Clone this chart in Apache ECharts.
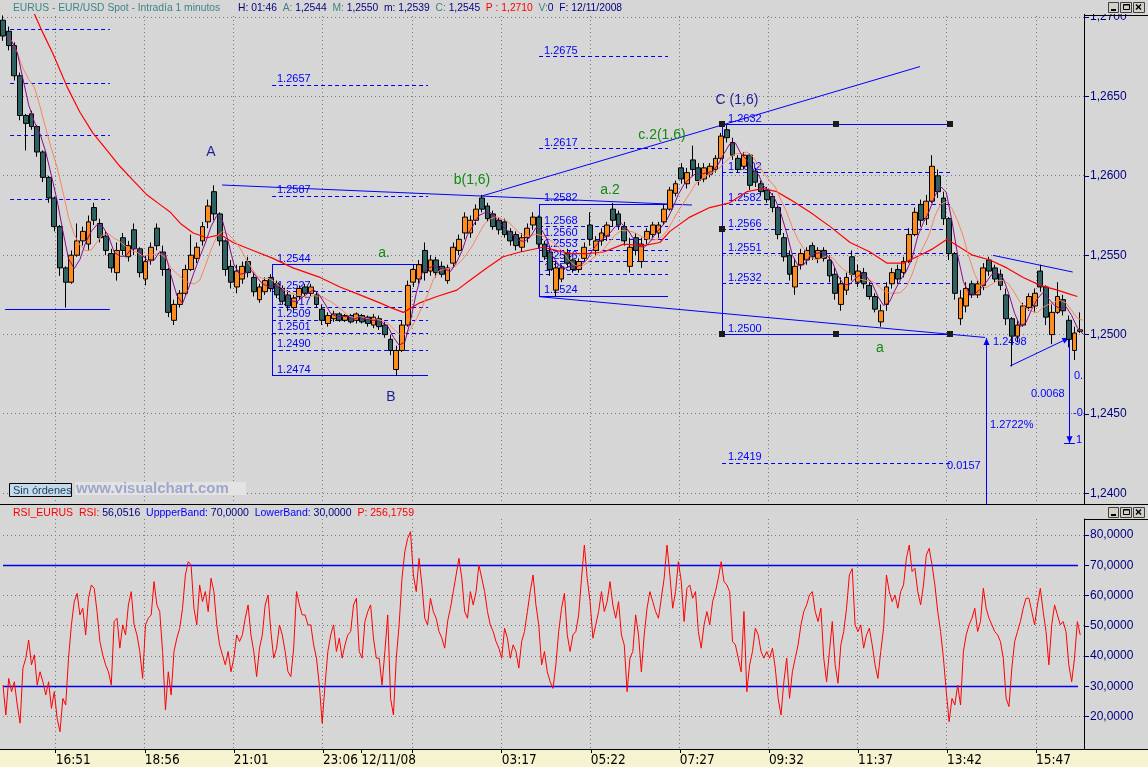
<!DOCTYPE html>
<html><head><meta charset="utf-8">
<script src="https://cdn.jsdelivr.net/npm/echarts@6/dist/echarts.min.js"></script>
<style>
html,body{margin:0;padding:0;}
#c{width:1148px;height:767px;background:linear-gradient(to bottom,#d6d6d6 0,#d6d6d6 749px,#f6f4d0 749px,#f6f4d0 767px);}
</style></head><body><div id="c"></div>
<script>
// ---------- data ----------
const START_MIN = 937;      // 11/11/08 15:37 (minutes from 11/11 00:00)
const BAR_MIN = 8;          // minutes per drawn candle
// [open, close, low, high]
const candles = [
[1.2698,1.2688,1.2685,1.2701],[1.2691,1.2682,1.2679,1.2694],[1.2682,1.2663,1.2660,1.2684],[1.2663,1.2638,1.2635,1.2665],
[1.2638,1.2633,1.2616,1.2639],[1.2639,1.2631,1.2629,1.2641],[1.2631,1.2615,1.2612,1.2632],[1.2615,1.2599,1.2596,1.2616],
[1.2599,1.2586,1.2583,1.2600],[1.2586,1.2568,1.2565,1.2587],[1.2568,1.2542,1.2537,1.2569],[1.2542,1.2533,1.2517,1.2543],
[1.2533,1.2550,1.2532,1.2553],[1.2550,1.2559,1.2549,1.2570],[1.2559,1.2565,1.2556,1.2568],[1.2557,1.2571,1.2553,1.2575],
[1.2580,1.2572,1.2569,1.2583],[1.2570,1.2561,1.2558,1.2573],[1.2562,1.2553,1.2550,1.2565],[1.2551,1.2542,1.2539,1.2554],
[1.2539,1.2553,1.2534,1.2558],[1.2561,1.2553,1.2550,1.2564],[1.2549,1.2556,1.2546,1.2559],[1.2566,1.2554,1.2550,1.2570],
[1.2554,1.2539,1.2536,1.2555],[1.2535,1.2546,1.2531,1.2550],[1.2547,1.2555,1.2544,1.2558],[1.2567,1.2556,1.2553,1.2570],
[1.2552,1.2541,1.2537,1.2556],[1.2541,1.2514,1.2511,1.2542],[1.2509,1.2519,1.2506,1.2522],[1.2519,1.2526,1.2517,1.2528],
[1.2526,1.2541,1.2525,1.2544],[1.2541,1.2550,1.2540,1.2563],[1.2548,1.2555,1.2545,1.2558],[1.2559,1.2568,1.2556,1.2571],
[1.2571,1.2581,1.2567,1.2585],[1.2590,1.2576,1.2572,1.2594],[1.2576,1.2559,1.2556,1.2577],[1.2559,1.2541,1.2537,1.2560],
[1.2543,1.2533,1.2529,1.2547],[1.2530,1.2540,1.2526,1.2544],[1.2535,1.2543,1.2532,1.2546],[1.2546,1.2539,1.2536,1.2549],
[1.2536,1.2527,1.2524,1.2539],[1.2522,1.2530,1.2520,1.2532],[1.2527,1.2534,1.2525,1.2536],[1.2536,1.2529,1.2527,1.2538],
[1.2532,1.2525,1.2523,1.2534],[1.2529,1.2521,1.2519,1.2531],[1.2525,1.2518,1.2515,1.2528],[1.2517,1.2523,1.2515,1.2525],
[1.2524,1.2529,1.2522,1.2531],[1.2530,1.2526,1.2524,1.2532],[1.2526,1.2530,1.2524,1.2532],[1.2525,1.2519,1.2517,1.2527],
[1.2516,1.2509,1.2506,1.2519],[1.2507,1.2512,1.2505,1.2514],[1.2510,1.2513,1.2508,1.2515],[1.2513,1.2509,1.2508,1.2514],
[1.2509,1.2512,1.2508,1.2513],[1.2512,1.2508,1.2507,1.2513],[1.2509,1.2513,1.2507,1.2514],[1.2512,1.2508,1.2507,1.2513],
[1.2511,1.2507,1.2505,1.2512],[1.2506,1.2511,1.2504,1.2513],[1.2510,1.2505,1.2503,1.2512],[1.2506,1.2500,1.2498,1.2508],
[1.2497,1.2490,1.2487,1.2500],[1.2478,1.2490,1.2474,1.2493],[1.2490,1.2506,1.2489,1.2509],[1.2506,1.2531,1.2505,1.2534],
[1.2533,1.2541,1.2530,1.2544],[1.2535,1.2544,1.2532,1.2547],[1.2553,1.2539,1.2534,1.2558],[1.2540,1.2547,1.2537,1.2550],
[1.2547,1.2539,1.2536,1.2549],[1.2543,1.2538,1.2536,1.2546],[1.2534,1.2542,1.2532,1.2544],[1.2545,1.2555,1.2542,1.2558],
[1.2553,1.2560,1.2550,1.2563],[1.2564,1.2574,1.2560,1.2577],[1.2564,1.2572,1.2561,1.2575],[1.2572,1.2579,1.2569,1.2582],
[1.2586,1.2579,1.2577,1.2588],[1.2581,1.2573,1.2571,1.2583],[1.2576,1.2568,1.2566,1.2578],[1.2572,1.2566,1.2563,1.2574],
[1.2571,1.2563,1.2561,1.2573],[1.2565,1.2559,1.2556,1.2567],[1.2563,1.2556,1.2553,1.2565],[1.2555,1.2561,1.2552,1.2564],
[1.2561,1.2567,1.2558,1.2570],[1.2569,1.2574,1.2566,1.2577],[1.2574,1.2557,1.2554,1.2575],[1.2557,1.2549,1.2547,1.2559],
[1.2552,1.2541,1.2537,1.2556],[1.2528,1.2542,1.2524,1.2546],[1.2535,1.2542,1.2533,1.2544],[1.2551,1.2545,1.2542,1.2554],
[1.2547,1.2541,1.2539,1.2548],[1.2541,1.2546,1.2539,1.2548],[1.2548,1.2555,1.2546,1.2558],[1.2569,1.2560,1.2556,1.2577],
[1.2553,1.2559,1.2550,1.2562],[1.2559,1.2564,1.2556,1.2567],[1.2562,1.2569,1.2559,1.2571],[1.2579,1.2572,1.2568,1.2583],
[1.2576,1.2569,1.2566,1.2578],[1.2568,1.2559,1.2556,1.2571],[1.2543,1.2555,1.2539,1.2561],[1.2561,1.2553,1.2550,1.2564],
[1.2546,1.2557,1.2542,1.2561],[1.2560,1.2565,1.2557,1.2567],[1.2563,1.2569,1.2561,1.2571],[1.2564,1.2569,1.2561,1.2571],
[1.2571,1.2579,1.2569,1.2582],[1.2579,1.2591,1.2578,1.2593],[1.2589,1.2595,1.2587,1.2597],[1.2605,1.2598,1.2595,1.2608],
[1.2595,1.2602,1.2592,1.2605],[1.2610,1.2604,1.2600,1.2619],[1.2605,1.2597,1.2594,1.2608],[1.2598,1.2605,1.2596,1.2608],
[1.2601,1.2606,1.2599,1.2608],[1.2604,1.2611,1.2602,1.2613],[1.2611,1.2625,1.2610,1.2627],[1.2629,1.2624,1.2621,1.2632],
[1.2621,1.2613,1.2610,1.2624],[1.2611,1.2604,1.2602,1.2613],[1.2606,1.2613,1.2604,1.2615],[1.2613,1.2594,1.2591,1.2614],
[1.2603,1.2596,1.2593,1.2605],[1.2595,1.2590,1.2588,1.2597],[1.2591,1.2585,1.2583,1.2593],[1.2587,1.2580,1.2577,1.2589],
[1.2580,1.2563,1.2560,1.2581],[1.2561,1.2549,1.2546,1.2564],[1.2550,1.2538,1.2534,1.2553],[1.2530,1.2543,1.2525,1.2548],
[1.2544,1.2551,1.2541,1.2554],[1.2547,1.2553,1.2544,1.2555],[1.2556,1.2549,1.2547,1.2558],[1.2548,1.2553,1.2545,1.2555],
[1.2553,1.2548,1.2546,1.2555],[1.2547,1.2537,1.2533,1.2550],[1.2538,1.2526,1.2522,1.2542],[1.2519,1.2532,1.2515,1.2536],
[1.2528,1.2536,1.2525,1.2539],[1.2549,1.2538,1.2534,1.2553],[1.2533,1.2540,1.2530,1.2544],[1.2539,1.2532,1.2529,1.2542],
[1.2531,1.2524,1.2522,1.2533],[1.2524,1.2516,1.2514,1.2526],[1.2508,1.2515,1.2505,1.2519],[1.2519,1.2530,1.2515,1.2533],
[1.2532,1.2539,1.2529,1.2542],[1.2541,1.2535,1.2532,1.2544],[1.2539,1.2546,1.2536,1.2549],[1.2546,1.2563,1.2545,1.2567],
[1.2563,1.2577,1.2562,1.2580],[1.2582,1.2572,1.2568,1.2585],[1.2573,1.2584,1.2569,1.2588],[1.2584,1.2606,1.2583,1.2613],
[1.2600,1.2590,1.2586,1.2604],[1.2586,1.2573,1.2569,1.2590],[1.2573,1.2551,1.2547,1.2574],[1.2551,1.2526,1.2522,1.2552],
[1.2510,1.2523,1.2506,1.2528],[1.2518,1.2529,1.2514,1.2533],[1.2532,1.2525,1.2523,1.2534],[1.2525,1.2532,1.2523,1.2534],
[1.2531,1.2542,1.2528,1.2545],[1.2547,1.2540,1.2537,1.2549],[1.2542,1.2535,1.2533,1.2544],[1.2538,1.2531,1.2528,1.2541],
[1.2525,1.2510,1.2506,1.2529],[1.2510,1.2499,1.2480,1.2511],[1.2499,1.2506,1.2495,1.2509],[1.2506,1.2518,1.2505,1.2520],
[1.2517,1.2524,1.2515,1.2526],[1.2518,1.2526,1.2514,1.2529],[1.2540,1.2530,1.2527,1.2544],[1.2530,1.2511,1.2506,1.2531],
[1.2500,1.2514,1.2494,1.2519],[1.2514,1.2524,1.2513,1.2533],[1.2522,1.2515,1.2512,1.2525],[1.2509,1.2497,1.2492,1.2512],
[1.2490,1.2501,1.2484,1.2505],[1.2502,1.2503,1.2501,1.2514]
];
// slow red moving average
const maSlowTimes = [979,993,1007,1027,1045,1063,1083,1101,1120,1139,1157,1172,1186,1204,1223,1242,1260,1288,1316,1344,1382,1410,1438,1466,1481,1499,1522,1546,1574,1592,1616,1639,1663,1695,1733,1757,1780,1808,1836,1859,1873,1901,1929,1957,1981,2004,2023,2042,2070,2098,2126,2154,2178,2201,2224,2242,2262,2280,2298,2322,2346,2369,2393,2417,2431,2445];
const maSlowValues = [1.2704,1.2690,1.2677,1.2656,1.2640,1.2627,1.2616,1.2606,1.2597,1.2588,1.2582,1.2577,1.2570,1.2564,1.2561,1.2563,1.2558,1.2553,1.2548,1.2542,1.2536,1.2530,1.2525,1.2520,1.2517,1.2514,1.2520,1.2524,1.2528,1.2534,1.2542,1.2549,1.2552,1.2555,1.2551,1.2551,1.2552,1.2557,1.2556,1.2558,1.2565,1.2574,1.2580,1.2583,1.2590,1.2592,1.2590,1.2585,1.2577,1.2568,1.2558,1.2552,1.2545,1.2545,1.2550,1.2554,1.2560,1.2555,1.2550,1.2547,1.2542,1.2536,1.2531,1.2528,1.2526,1.2524];
const RSI_STEP_MIN = 4;
const rsiValues = [
30.4,20.5,32.6,28.2,31.5,23.8,17.8,36,39.3,45.3,37.1,40.4,30.4,34.8,31.5,27.1,31.5,22.7,28.2,19.4,
15,26,23.8,39.3,50.3,58,60.7,53.6,55.8,47,59.1,63.5,62.4,54.7,44.8,40.4,37.1,34.8,30.4,51.4,
52.5,42.6,50.3,47,56.9,61.3,50.3,47,41.5,32.6,50.3,52.5,53.6,64.6,56.9,54.7,41.5,22.2,34.8,27.1,
41.5,45.9,49.2,55.8,66.8,71.2,70.1,55.8,50.3,63.5,58,61.3,54.7,65.7,61.3,50.3,43.7,40.4,37.1,41.5,
34.8,39.3,47,44.8,47,52.5,56.9,47,41.5,33.2,42.6,47,56.9,60.2,48.1,39.3,42.6,50.3,47,41.5,
34.8,33.2,42.6,61.3,56.9,53.6,53.6,50.3,50.3,43.7,39.3,30.4,17.8,30.4,41.5,47,50.3,41.5,45.9,39.3,
43.7,47,48.1,56.9,59.1,41.5,39.3,51.4,54.7,56.9,45.9,39.3,39.3,30.4,41.5,53.6,26,20.5,39.3,50.3,
65.7,74.5,78.9,81.1,66.8,61.3,72.3,63.5,52.5,50.3,59.1,54.7,52.5,48.1,45.9,42.6,51.4,55.8,61.3,66.8,
72.3,65.7,54.7,52.5,61.3,56.9,61.3,70.1,65.7,61.3,54.7,50.3,48.1,44.8,42.6,39.3,49.2,45.9,39.3,43.7,
41.5,36,44.8,48.1,54.7,61.3,66.8,56.9,50.3,37.1,41.5,34.8,31.5,29.3,37.1,48.1,55.8,60.7,47,41.5,
47,48.1,53.6,65.7,76.7,65.7,58,45.9,50.3,54.7,61.3,54.7,58,64.6,56.9,52.5,58,47,43.7,28.2,
39.3,41.5,53.6,47,34.8,47,55.8,61.3,58,54.7,52.5,59.1,65.7,76.7,66.8,55.8,61.3,71.2,64.6,51.4,
62.4,63.5,59.1,61.3,48.1,42.6,50.3,54.7,50.3,58,61.3,65.7,71.2,64.6,63.5,61.3,44.8,43.7,39.3,34.8,
54.7,28.2,37.1,41.5,49.2,47,41.5,39.3,41.5,39.3,42.6,36,26,20.5,31.5,39.3,26,34.8,39.3,43.7,
50.3,54.7,56.9,60.2,61.3,54.7,51.4,55.8,39.3,31.5,41.5,51.4,37.1,31,43.7,48.1,55.8,66.8,68.9,50.3,
48.1,50.3,42.6,47,49.2,43.7,37.1,32.6,41.5,49.2,66.8,61.3,58,60.2,55.8,61.3,63.5,72.3,76.7,67.9,
69,61.3,56.9,63.5,73.4,75.6,70.1,63.5,54.7,48.1,39.3,28.2,18.3,26,23.8,30.4,23.8,41.5,47,50.3,
52.5,55.8,48.1,51.4,62.4,55.8,52.5,50.3,48.1,47,44.8,39.3,26,23.3,36,44.8,48.1,51.4,55.8,59.1,
59.1,54.7,50.3,56.9,62.4,54.7,48.1,37.1,50.3,56.9,53.6,50.3,51.4,48.1,37.1,31.5,39.3,51.4,47
];
const timeTickValues = [1011,1136,1261,1386,1440,1512,1637,1762,1887,2012,2137,2262,2387];
const timeTickLabels = ['16:51','18:56','21:01','23:06','12/11/08','','03:17','05:22','07:27','09:32','11:37','13:42','15:47'];
const gridTimes = [1011,1136,1261,1386,1512,1637,1762,1887,2012,2137,2262,2387];
const priceTicks = [1.2400,1.2450,1.2500,1.2550,1.2600,1.2650,1.2700];
const rsiTicks = [20,30,40,50,60,70,80];
const rsiGridLevels = [20,40,50,60,80];
const rsiBands = [30,70];
const lastPrice = 1.2503;
const lastRsi = 46.9795;
const X_MIN = 937, X_MAX = 2454.3;
const P_MIN = 1.239332, P_MAX = 1.270315;
const R_MIN = 9.27, R_MAX = 85.3;

// drawing-tool annotations in (minute, price) coordinates
const fibSets = [
  {from: 947, to: 1087, levels: [1.26924,1.26584,1.26251,1.25848]},
  {from: 1314.7, to: 1533.6, levels: [1.2657,1.2587,1.2527,1.2517,1.2509,1.2501,1.2490]},
  {from: 1689.4, to: 1870.5, levels: [1.2675,1.2617,1.2568,1.2560,1.2553,1.2546,1.2538]},
  {from: 1946.3, to: 2266.2, levels: [1.2602,1.2582,1.2566,1.2551,1.2532,1.2419]}
];
const solidSegments = [
  [940,1.25161,1087,1.25161],
  [1314.7,1.2544,1533.6,1.2544],[1314.7,1.2474,1533.6,1.2474],[1314.7,1.2544,1314.7,1.2474],
  [1689.4,1.2582,1870.5,1.2582],[1689.4,1.2524,1870.5,1.2524],[1689.4,1.2582,1689.4,1.2524],
  [1946.3,1.2632,2266.2,1.2632],[1946.3,1.2500,2266.2,1.2500],[1946.3,1.2632,1946.3,1.2500],
  [1244.5,1.25942,1904.1,1.25816],
  [1609.4,1.25873,2224.2,1.26688],
  [1689.4,1.25239,2315.4,1.24982],
  [2326.6,1.25499,2438.5,1.25394],
  [2426.2,1.24316,2441.6,1.24316]
];
const arrowSegments = [
  [2316.8,1.2385,2316.8,1.24979],
  [2433.7,1.24980,2433.7,1.24316],
  [2350.5,1.24802,2433.7,1.24980]
];
const handlePoints = [[1946.3,1.2632],[2106.3,1.2632],[2266.2,1.2632],[1946.3,1.2566],[1946.3,1.2500],[2106.3,1.2500],[2266.2,1.2500]];
const levelLabelSets = [
  {t: 1321.7, levels: [1.2657,1.2587,1.2544,1.2527,1.2517,1.2509,1.2501,1.2490,1.2474]},
  {t: 1696.4, levels: [1.2675,1.2617,1.2582,1.2568,1.2560,1.2553,1.2546,1.2538,1.2524]},
  {t: 1954.7, levels: [1.2632,1.2602,1.2582,1.2566,1.2551,1.2532,1.2500,1.2419]}
];
const waveLabels = [
  ['A',1229,1.26150,'wb'],['B',1481.7,1.24607,'wb'],['C (1,6)',1967.3,1.26477,'wb'],
  ['b(1,6)',1595.4,1.25974,'wg'],['a.',1471.9,1.25514,'wg'],['a.2',1789,1.25911,'wg'],
  ['c.2(1,6)',1862,1.26257,'wg'],['a',2168,1.24916,'wg']
];
const measureLabels = [
  ['1.2498',2326.6,1.24953],['1.2722%',2322.3,1.24431],['0.0068',2379.5,1.24626],
  ['0.0157',2262,1.24173],['0.5',2440.3,1.24739],['-0.5',2439.3,1.24506],['1',2443.6,1.24336]
];
// header texts: [text, colour key]
const headerTitle = 'EURUS - EUR/USD Spot - Intradía 1 minutos';
const headerValues = [['H: 01:46','n'],['  A: ','t'],['1,2544','n'],['  M: ','t'],['1,2550','n'],['  m: ','n'],['1,2539','n'],
  ['  C: ','t'],['1,2545','n'],['  P : 1,2710','r'],['  V:','t'],['0','n'],['  F: ','n'],['12/11/2008','n']];
const rsiHeader = [['RSI_EURUS  RSI: ','r'],['56,0516','n'],['  UppperBand: ','b'],['70,0000','n'],['  LowerBand: ','b'],['30,0000','n'],['  P: 256,1759','r']];

// ---------- helpers ----------
const FONT = '"Liberation Sans", Arial, sans-serif';
const NARROW = '"DejaVu Sans Condensed", "Liberation Sans Narrow", sans-serif';
const crisp = v => Math.round(v - 0.5) + 0.5;
const fmt4 = v => v.toFixed(4).replace('.', ',');
function sma(vals, n) {
  return vals.map((_, i) => {
    const s = vals.slice(Math.max(0, i - n + 1), i + 1);
    return s.reduce((a, b) => a + b, 0) / s.length;
  });
}
const candleTimes = candles.map((_, i) => START_MIN + i * BAR_MIN);
const closes = candles.map(c => c[1]);
const maFast = sma(closes, 3);
const maMid = sma(closes, 6);

function vGrid(xi, yi, yMid) {
  return {type:'custom', coordinateSystem:'cartesian2d', xAxisIndex:xi, yAxisIndex:yi, z:1, silent:true,
    data: gridTimes.map(t => [t, yMid]),
    renderItem(params, api) {
      const cs = params.coordSys;
      const x = crisp(api.coord([api.value(0), api.value(1)])[0]);
      return {type:'line', shape:{x1:x, y1:cs.y, x2:x, y2:cs.y + cs.height}, style:{stroke:'#7a7a7a', lineWidth:1, lineDash:[1,3]}};
    }};
}
function hGrid(xi, yi, levels) {
  return {type:'custom', coordinateSystem:'cartesian2d', xAxisIndex:xi, yAxisIndex:yi, z:1, silent:true,
    data: levels.map(v => [X_MIN + 100, v]),
    renderItem(params, api) {
      const cs = params.coordSys;
      const y = crisp(api.coord([api.value(0), api.value(1)])[1]);
      return {type:'line', shape:{x1:cs.x, y1:y, x2:cs.x + cs.width, y2:y}, style:{stroke:'#7a7a7a', lineWidth:1, lineDash:[1,3]}};
    }};
}
function segSeries(xi, yi, segs, style, z) {
  return {type:'custom', coordinateSystem:'cartesian2d', xAxisIndex:xi, yAxisIndex:yi, z, silent:true, clip:true,
    data: segs, encode:{x:[0,2], y:[1,3]},
    renderItem(params, api) {
      const a = api.coord([api.value(0), api.value(1)]);
      const b = api.coord([api.value(2), api.value(3)]);
      let x1 = a[0], y1 = a[1], x2 = b[0], y2 = b[1];
      if (Math.abs(y1 - y2) < 0.01) { y1 = y2 = crisp(y1); }
      if (Math.abs(x1 - x2) < 0.01) { x1 = x2 = crisp(x1); }
      return {type:'line', shape:{x1, y1, x2, y2}, style:Object.assign({stroke:'#0000ff', lineWidth:1}, style)};
    }};
}
const dashedSegments = fibSets.flatMap(s => s.levels.map(p => [s.from, p, s.to, p]));
const textItems = [].concat(
  levelLabelSets.flatMap(s => s.levels.map(p => ({t:s.t, p, text:p.toFixed(4), kind:'level'}))),
  waveLabels.map(w => ({t:w[1], p:w[2], text:w[0], kind:w[3]})),
  measureLabels.map(m => ({t:m[1], p:m[2], text:m[0], kind:'measure'}))
);
const textStyles = {
  level:   {fill:'#0000ff', font:'11px ' + FONT, align:'left', verticalAlign:'bottom', dy:-1},
  measure: {fill:'#0000ff', font:'11px ' + FONT, align:'left', verticalAlign:'middle', dy:0},
  wb:      {fill:'#1e1e9a', font:'14px ' + FONT, align:'center', verticalAlign:'middle', dy:0},
  wg:      {fill:'#118a11', font:'14px ' + FONT, align:'center', verticalAlign:'middle', dy:0}
};
const hdrColors = {t:'#3b8585', n:'#000080', r:'#ff0000', b:'#0000ff'};
function richText(pieces) { return pieces.map(p => '{' + p[1] + '|' + p[0] + '}').join(''); }
function richDefs(size) {
  const o = {};
  Object.keys(hdrColors).forEach(k => { o[k] = {fill:hdrColors[k], color:hdrColors[k], font:size + 'px ' + FONT, fontSize:size, fontFamily:FONT}; });
  return o;
}

// ---------- chart ----------
const chart = echarts.init(document.getElementById('c'), null, {renderer:'canvas', width:1148, height:767});

const axisLabelBase = {color:'#000080', fontSize:12, fontFamily:FONT, margin:6, formatter: v => fmt4(v)};

function tag(value) {
  return {
    silent:true, symbol:'none', animation:false,
    lineStyle:{opacity:0},
    data:[{yAxis: value}],
    label:{show:true, position:'end', distance:2,
      formatter:'{a|«}{b|' + fmt4(value) + '}',
      rich:{
        a:{fontSize:8, color:'#000', fontFamily:FONT, padding:[0,1,0,0]},
        b:{fontSize:12, color:'#000', fontFamily:FONT, backgroundColor:'#ffffc4', borderColor:'#000', borderWidth:1, padding:[2,3,1,3], lineHeight:12}
      }}
  };
}

function buttons(y) {
  const out = [];
  const bx = [1108, 1120, 1133];
  const bw = [10, 11, 11];
  bx.forEach((x, k) => {
    out.push({type:'rect', z:101, shape:{x:x + 0.5, y:y + 0.5, width:bw[k], height:10},
      style:{fill:'#d4d0c8', stroke:'#404040', lineWidth:1}});
  });
  out.push({type:'line', z:102, shape:{x1:1111, y1:y + 8, x2:1116, y2:y + 8}, style:{stroke:'#000', lineWidth:2}});
  out.push({type:'rect', z:102, shape:{x:1123.5, y:y + 2.5, width:6, height:5}, style:{fill:null, stroke:'#000', lineWidth:1}});
  out.push({type:'line', z:102, shape:{x1:1123.5, y1:y + 3, x2:1129.5, y2:y + 3}, style:{stroke:'#000', lineWidth:1}});
  out.push({type:'line', z:102, shape:{x1:1136, y1:y + 2.5, x2:1141, y2:y + 7.5}, style:{stroke:'#000', lineWidth:1.5}});
  out.push({type:'line', z:102, shape:{x1:1141, y1:y + 2.5, x2:1136, y2:y + 7.5}, style:{stroke:'#000', lineWidth:1.5}});
  return out;
}

const option = {
  animation:false,
  textStyle:{fontFamily:FONT},
  grid:[
    {left:3, right:64, top:12, height:492, containLabel:false, outerBoundsMode:'none'},
    {left:3, right:64, top:519, height:230, containLabel:false, outerBoundsMode:'none'}
  ],
  xAxis:[
    {gridIndex:0, type:'value', min:X_MIN, max:X_MAX, show:false},
    {gridIndex:1, type:'value', min:X_MIN, max:X_MAX,
      axisLine:{show:true, lineStyle:{color:'#000', width:1}},
      axisTick:{show:true, customValues:timeTickValues, length:4, lineStyle:{color:'#000'}},
      axisLabel:{show:true, customValues:timeTickValues, align:'left', margin:4, color:'#000',
        fontSize:13.5, lineHeight:14, fontFamily:NARROW,
        formatter: v => { const k = timeTickValues.indexOf(v); return k >= 0 ? timeTickLabels[k] : ''; }},
      splitLine:{show:false}}
  ],
  yAxis:[
    {gridIndex:0, type:'value', position:'right', min:P_MIN, max:P_MAX, scale:true,
      axisLine:{show:true, lineStyle:{color:'#000'}},
      axisTick:{show:true, customValues:priceTicks, length:5, lineStyle:{color:'#000080'}},
      axisLabel:Object.assign({customValues:priceTicks}, axisLabelBase),
      splitLine:{show:false}},
    {gridIndex:1, type:'value', position:'right', min:R_MIN, max:R_MAX,
      axisLine:{show:true, lineStyle:{color:'#000'}},
      axisTick:{show:true, customValues:rsiTicks, length:5, lineStyle:{color:'#000080'}},
      axisLabel:Object.assign({customValues:rsiTicks}, axisLabelBase),
      splitLine:{show:false}}
  ],
  series:[
    vGrid(0, 0, 1.255),
    hGrid(0, 0, priceTicks),
    vGrid(1, 1, 50),
    hGrid(1, 1, rsiGridLevels),
    segSeries(1, 1, rsiBands.map(v => [X_MIN, v, 2446, v]), {stroke:'#0000ee', lineWidth:1.5}, 2),
    segSeries(0, 0, dashedSegments, {lineDash:[4,3]}, 2),
    segSeries(0, 0, solidSegments, {}, 2),
    {type:'custom', coordinateSystem:'cartesian2d', xAxisIndex:0, yAxisIndex:0, z:2, silent:true, clip:true,
      data: arrowSegments, encode:{x:[0,2], y:[1,3]},
      renderItem(params, api) {
        const a = api.coord([api.value(0), api.value(1)]);
        const b = api.coord([api.value(2), api.value(3)]);
        if (Math.abs(a[0] - b[0]) < 0.01) { a[0] = b[0] = crisp(a[0]); }
        const dx = b[0] - a[0], dy = b[1] - a[1], len = Math.hypot(dx, dy) || 1;
        const ux = dx / len, uy = dy / len, hl = 7, hw = 3;
        const bx = b[0] - ux * hl, by = b[1] - uy * hl;
        return {type:'group', children:[
          {type:'line', shape:{x1:a[0], y1:a[1], x2:b[0], y2:b[1]}, style:{stroke:'#0000ff', lineWidth:1}},
          {type:'polygon', shape:{points:[[b[0], b[1]], [bx - uy * hw, by + ux * hw], [bx + uy * hw, by - ux * hw]]}, style:{fill:'#0000ff'}}
        ]};
      }},
    {type:'custom', coordinateSystem:'cartesian2d', xAxisIndex:0, yAxisIndex:0, z:2, silent:true, clip:true,
      data: handlePoints,
      renderItem(params, api) {
        const c = api.coord([api.value(0), api.value(1)]);
        return {type:'rect', shape:{x:Math.round(c[0]) - 3, y:Math.round(c[1]) - 4, width:6, height:6}, style:{fill:'#1a1a1a'}};
      }},
    {type:'custom', coordinateSystem:'cartesian2d', xAxisIndex:0, yAxisIndex:0, z:2, silent:true, clip:true,
      data: textItems.map(d => [d.t, d.p]),
      renderItem(params, api) {
        const it = textItems[params.dataIndex];
        const st = textStyles[it.kind];
        const c = api.coord([api.value(0), api.value(1)]);
        return {type:'text', x:Math.round(c[0]), y:Math.round(c[1]) + st.dy,
          style:{text:it.text, fill:st.fill, font:st.font, align:st.align, textAlign:st.align,
            verticalAlign:st.verticalAlign, textVerticalAlign:st.verticalAlign}};
      }},
    {type:'candlestick', xAxisIndex:0, yAxisIndex:0, z:3, barWidth:'94%', silent:true,
      data: candles.map((c, i) => [candleTimes[i], c[0], c[1], c[2], c[3]]),
      itemStyle:{color:'#ff8c1a', color0:'#2e6262', borderColor:'#000', borderColor0:'#000', borderWidth:1},
      markLine: tag(lastPrice)},
    {type:'line', xAxisIndex:0, yAxisIndex:0, z:4, silent:true, showSymbol:false, symbol:'none',
      data: maSlowTimes.map((t, i) => [t, maSlowValues[i]]), lineStyle:{color:'#ff0000', width:1.2}},
    {type:'line', xAxisIndex:0, yAxisIndex:0, z:4, silent:true, showSymbol:false, symbol:'none',
      data: candleTimes.map((t, i) => [t + BAR_MIN / 2, maMid[i]]), lineStyle:{color:'#f7845e', width:1}},
    {type:'line', xAxisIndex:0, yAxisIndex:0, z:4, silent:true, showSymbol:false, symbol:'none',
      data: candleTimes.map((t, i) => [t + BAR_MIN / 2, maFast[i]]), lineStyle:{color:'#8a0a8a', width:1}},
    {type:'line', xAxisIndex:1, yAxisIndex:1, z:3, silent:true, showSymbol:false, symbol:'none',
      data: rsiValues.map((v, k) => [START_MIN + k * RSI_STEP_MIN, v]), lineStyle:{color:'#ff0000', width:1},
      markLine: tag(lastRsi)}
  ],
  graphic:[].concat(
    [{type:'rect', z:100, shape:{x:0, y:0, width:1148, height:14}, style:{fill:'#d6d6d6'}}],
    [{type:'text', z:101, x:13, y:8, style:{text:headerTitle, fill:hdrColors.t, font:'10.3px ' + FONT, verticalAlign:'middle', textVerticalAlign:'middle'}}],
    [{type:'text', z:101, x:238, y:8, style:{text:richText(headerValues), rich:richDefs(10.3), font:'10.3px ' + FONT, verticalAlign:'middle', textVerticalAlign:'middle'}}],
    buttons(2),
    [{type:'rect', z:100, shape:{x:0, y:505, width:1148, height:13}, style:{fill:'#d6d6d6'}}],
    [{type:'text', z:101, x:13, y:513, style:{text:richText(rsiHeader), rich:richDefs(10.5), font:'10.5px ' + FONT, verticalAlign:'middle', textVerticalAlign:'middle'}}],
    buttons(507),
    [
      {type:'line', z:101, shape:{x1:0, y1:504.5, x2:1148, y2:504.5}, style:{stroke:'#000', lineWidth:1}},
      {type:'line', z:101, shape:{x1:1084, y1:15.5, x2:1148, y2:15.5}, style:{stroke:'#000', lineWidth:1}},
      {type:'line', z:101, shape:{x1:1084, y1:519.5, x2:1148, y2:519.5}, style:{stroke:'#000', lineWidth:1}},
      {type:'line', z:101, shape:{x1:0, y1:749.5, x2:1148, y2:749.5}, style:{stroke:'#000', lineWidth:1}},
      {type:'rect', z:101, shape:{x:9.5, y:483.5, width:62, height:13}, style:{fill:'#c6dbe9', stroke:'#000', lineWidth:1}},
      {type:'text', z:102, x:13, y:490.5, style:{text:'Sin órdenes', fill:'#1c3c5c', font:'11px ' + FONT, verticalAlign:'middle', textVerticalAlign:'middle'}},
      {type:'rect', z:101, shape:{x:75, y:482, width:171, height:13}, style:{fill:'#e3e3e3'}},
      {type:'text', z:102, x:76, y:489, style:{text:'www.visualchart.com', fill:'#9ea6cc', font:'bold 15px ' + FONT, verticalAlign:'middle', textVerticalAlign:'middle'}}
    ]
  )
};
chart.setOption(option);
</script>
</body></html>
